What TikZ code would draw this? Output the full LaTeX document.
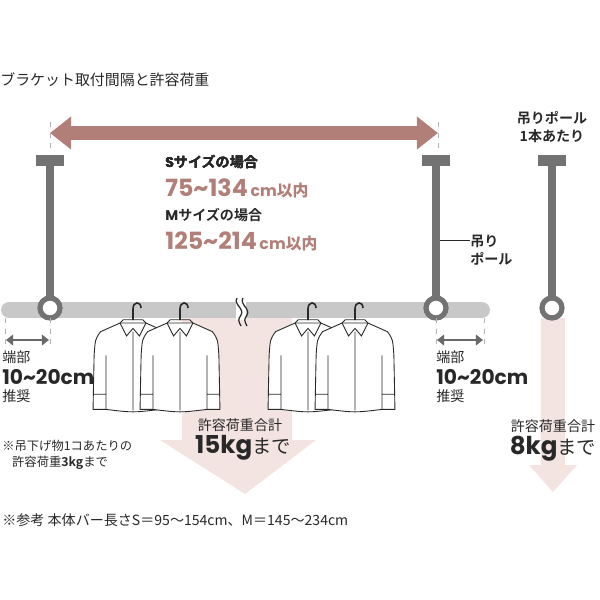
\documentclass[tikz,border=0pt]{standalone}
\usepackage{fontspec}
\setmainfont{Noto Sans CJK JP}
\newfontfamily\jpbold{Noto Sans CJK JP Bold}
\newfontfamily\numf{Poppins}
\usetikzlibrary{arrows.meta,positioning}
\definecolor{rose}{RGB}{178,127,120}
\definecolor{pole}{RGB}{115,115,115}
\definecolor{barc}{RGB}{200,200,200}
\definecolor{blush}{RGB}{243,228,226}
\definecolor{ink}{RGB}{40,40,40}
\tikzset{
  txt/.style={inner sep=0pt,text=ink,anchor=west,font=\fontsize{8}{10}\selectfont},
  big/.style={txt,font=\numf\bfseries\fontsize{11.5}{13}\selectfont},
  guide/.style={gray!60,dashed,line width=0.5pt},
  ringc/.style={pole,line width=3pt},
}
\newcommand{\bracket}[2]{%
  \fill[pole] (#1-14,155) rectangle (#1+14,166);
  \fill[pole] (#1-4,166) rectangle (#1+4,298);
  \draw[ringc,fill=white] (#1,308) circle (10);
  \coordinate (#2) at (#1,308);
}
\newcommand{\shirt}[2]{%
  \begin{scope}[shift={(#1,#2)},scale=1.08]
    \draw[ink,line width=0.5pt,fill=white,line join=round]
      (-12,0) -- (-30,8) .. controls (-35,15) .. (-36,30) -- (-37,80) -- (-25,80)
      .. controls (0,83) .. (25,80) -- (37,80) -- (36,30) .. controls (35,15) .. (30,8) -- (12,0) -- cycle;
    \draw[ink,line width=0.5pt]
      (-25,30) -- (-25,80) (25,30) -- (25,80)
      (-37,66) -- (-25,66) (37,66) -- (25,66) (0,8) -- (0,81)
      (-12,0) -- (-9,-3) -- (9,-3) -- (12,0)
      (-12,0) -- (-6,12) -- (0,5) -- (6,12) -- (12,0);
  \end{scope}}
\newcommand{\hook}[2]{%
  \draw[ink,line width=0.9pt] (#1,#2-3) -- (#1,#2-14) .. controls (#1,#2-22) and (#1+8,#2-22) .. (#1+8,#2-15);}
\begin{document}
\begin{tikzpicture}[x=0.02cm,y=-0.02cm]
\useasboundingbox (0,0) rectangle (600,600);
\node[txt,font=\fontsize{8.5}{10}\selectfont] (title) at (0,80) {ブラケット取付間隔と許容荷重};
% load arrows
\fill[blush] (182,315) -- (292,315) -- (292,440) -- (316,440) -- (245,494) -- (160,440) -- (182,440) -- cycle;
\fill[blush] (541,318) -- (565,318) -- (565,465) -- (577,465) -- (553,492) -- (529,465) -- (541,465) -- cycle;
% span arrow
\draw[guide] (50,122) -- (50,152) (438,122) -- (438,152);
\coordinate (sl) at (50,133);
\coordinate (sr) at (438,133);
\draw[rose,line width=8pt,{Triangle[length=12pt,width=18pt]}-{Triangle[length=12pt,width=18pt]}] (sl) -- (sr);
% bar
\draw[barc,line width=9pt,line cap=round] (9,310) -- (482,310);
\fill[white] (236,300) rectangle (246,320);
\foreach \dx in {0,6}
  \draw[ink,line width=0.7pt] (237+\dx,298) .. controls (233+\dx,304) and (245+\dx,309) .. (241+\dx,315) .. controls (238+\dx,320) .. (241+\dx,326);
\bracket{50}{rl}
\bracket{436}{rr}
\bracket{552}{rs}
% shirts
\shirt{133}{323}
\shirt{180}{323}
\shirt{308}{323}
\shirt{355}{323}
\foreach \x in {133,180,308,355} \hook{\x}{323}
% texts
\node[txt,font=\jpbold\fontsize{8}{10}\selectfont] (ss) at (165,162) {{\numf\bfseries S}サイズの場合};
\node[txt,text=rose,font=\numf\fontsize{13.5}{15}\selectfont\bfseries] (sv) at (165,188) {75\textasciitilde134\fontsize{9}{10}\selectfont\,cm{\jpbold 以内}};
\node[txt,font=\jpbold\fontsize{8}{10}\selectfont] (ms) at (165,215) {{\numf\bfseries M}サイズの場合};
\node[txt,text=rose,font=\numf\fontsize{13.5}{15}\selectfont\bfseries] (mv) at (165,241) {125\textasciitilde214\fontsize{9}{10}\selectfont\,cm{\jpbold 以内}};
\node[txt,font=\jpbold\fontsize{8}{10}\selectfont,align=left] (pl) at (470,250) {吊り\\ポール};
\draw[ink,line width=0.5pt] (440,240) -- (pl.west|-440,240);
\node[txt,font=\jpbold\fontsize{8}{10}\selectfont,align=center,anchor=center] (pone) at (552,127) {吊りポール\\1本あたり};
% end margins
\foreach \a/\b/\n in {5/50/el,436/484/er}{
  \draw[guide] (\a,318) -- (\a,346) (\b,318) -- (\b,346);
  \draw[ink!70,line width=1.5pt,{Triangle[length=4pt,width=6pt]}-{Triangle[length=4pt,width=6pt]}] (\a+1,340) -- (\b-1,340);
}
\foreach \x/\n in {2/l,436/r}{
  \node[txt] (tan\n) at (\x,357) {端部};
  \node[big] (cm\n) at (\x,377) {10\textasciitilde20cm};
  \node[txt] (suj\n) at (\x,396) {推奨};
}
\node[txt,font=\fontsize{7}{9}\selectfont,align=left] (note) at (2,455) {※吊下げ物1コあたりの\\\hspace{0.8em}許容荷重{\jpbold 3kg}まで};
\node[txt,anchor=center] (tot) at (240,425) {許容荷重合計};
\node[txt,anchor=center,font=\numf\bfseries\fontsize{14}{16}\selectfont] (kg15) at (243,448) {15kg{\fontsize{11}{12}\selectfont\mdseries\rmfamily まで}};
\node[txt,anchor=center] (tot2) at (553,426) {許容荷重合計};
\node[txt,anchor=center,font=\numf\bfseries\fontsize{14}{16}\selectfont] (kg8) at (553,449) {8kg{\fontsize{11}{12}\selectfont\mdseries\rmfamily まで}};
\node[txt,font=\fontsize{8}{9}\selectfont] (ref) at (2,520) {※参考\ 本体バー長さS＝95～154cm、M＝145～234cm};
\end{tikzpicture}
\end{document}
